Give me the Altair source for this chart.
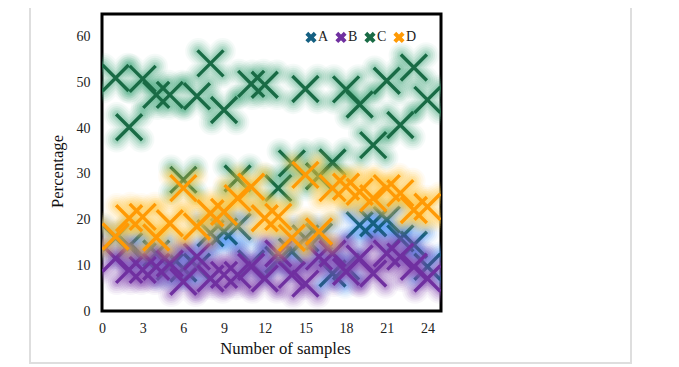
import altair as alt
import pandas as pd

series_names = ["A", "B", "C", "D"]
a_x = [1, 2, 3, 4, 5, 6, 7, 8, 9, 10, 11, 13, 14, 15, 16, 17, 18, 19, 20, 21, 22, 23, 24]
a_y = [16, 14.2, 12, 12.6, 9.7, 9.3, 9.7, 17, 17.4, 18.5, 10.4, 11.2, 13, 15.9, 16.3, 8.2, 9.7, 18.8, 19.2, 20, 15.9, 14.5, 9.7]
b_x = [1, 2, 3, 4, 5, 6, 7, 8, 9, 10, 11, 12, 13, 14, 15, 16, 17, 18, 19, 20, 21, 22, 23, 24]
b_y = [11.5, 9, 9, 9.7, 10.4, 6.4, 11.9, 7.1, 7.9, 7.9, 9.7, 7.1, 12.6, 7.9, 6, 11.9, 12.6, 8.6, 11.5, 8.2, 12.6, 11.9, 9.7, 7.1]
c_x = [1, 2, 3, 4, 5, 6, 7, 8, 9, 10, 11, 12, 13, 14, 15, 16, 17, 18, 19, 20, 21, 22, 23, 24]
c_y = [51, 40.2, 50.8, 47.3, 47.3, 28.7, 47, 54.2, 44, 29, 49.7, 49.5, 26.9, 32.3, 48.6, 29.5, 32.5, 48.5, 45.2, 36.3, 50.4, 40.7, 53.3, 46.2]
d_x = [1, 2, 3, 4, 5, 6, 7, 8, 9, 10, 11, 12, 13, 14, 15, 16, 17, 18, 19, 20, 21, 22, 23, 24]
d_y = [16.3, 20.3, 20.6, 16.1, 19.2, 26.9, 18.5, 21.4, 21.7, 24.7, 27.2, 20.3, 20.6, 16, 29.8, 17.4, 26.9, 27.2, 26.1, 24.7, 26.9, 25.8, 22.1, 22.8]

line_colors = ["#156082", "#7030A0", "#196B45", "#FF9A05"]
glow_colors = ["#4C95F5", "#8A4DB5", "#4FAF85", "#FFC83D"]
x_ticks = list(range(0, 25, 3))
y_ticks = list(range(0, 61, 10))

rows = []
for name, xs, ys in zip(series_names, [a_x, b_x, c_x, d_x], [a_y, b_y, c_y, d_y]):
    rows += [{"x": x, "y": y, "s": name} for x, y in zip(xs, ys)]
df = pd.DataFrame(rows)

X_PATH = "M-1,-1L1,1M-1,1L1,-1"
FONT = "Liberation Serif"
x_enc = alt.X("x:Q", scale=alt.Scale(domain=[0, 25], nice=False),
              axis=alt.Axis(values=x_ticks, title="Number of samples", grid=False, domain=False, ticks=False,
                            labelPadding=10, labelFontSize=14, labelColor="#222", labelFont=FONT, labelFlush=False,
                            titleFont=FONT, titleFontSize=16.7, titleFontWeight="normal", titleColor="#111",
                            titleX=183, titleY=29, labelAngle=0))
y_enc = alt.Y("y:Q", scale=alt.Scale(domain=[0, 65], nice=False),
              axis=alt.Axis(values=y_ticks, title="Percentage", grid=False, domain=False, ticks=False,
                            labelPadding=12, labelFontSize=14, labelColor="#222", labelFont=FONT, labelFlush=False,
                            titleFont=FONT, titleFontSize=16.7, titleFontWeight="normal", titleColor="#111",
                            titleX=-36, titleY=157))

layers = [
    alt.Chart(alt.Data(values=[{}])).mark_rect(fill="transparent", stroke="#DEDEDE", strokeWidth=2, clip=False).encode(
        x=alt.value(-72), x2=alt.value(529), y=alt.value(-20), y2=alt.value(349))
]
glow_widths = [(26, 0.05), (22, 0.07), (18, 0.1), (14, 0.12), (10, 0.15), (7, 0.15)]
for name, glow in zip(series_names, glow_colors):
    base = alt.Chart(df).transform_filter(alt.datum.s == name)
    for w, op in glow_widths:
        layers.append(base.mark_point(shape=X_PATH, size=600, filled=False, stroke=glow, strokeWidth=w,
                                      opacity=op, strokeCap="round", clip=True).encode(x=x_enc, y=y_enc))
    layers.append(base.mark_point(shape=X_PATH, size=676, filled=False, strokeWidth=3.4, opacity=1, clip=True).encode(
        x=x_enc, y=y_enc,
        color=alt.Color("s:N", scale=alt.Scale(domain=series_names, range=line_colors),
                        legend=alt.Legend(title=None, orient="none", legendX=202, legendY=16, direction="horizontal",
                                          columns=4, symbolType=X_PATH, symbolSize=70, symbolStrokeWidth=4,
                                          symbolOpacity=1, labelFont=FONT, labelFontSize=14, labelColor="#222",
                                          labelOffset=0, columnPadding=-1, symbolFillColor="transparent"))))

chart = alt.layer(*layers).properties(
    width=339, height=297,
    padding={"left": 94, "top": 6, "right": 200, "bottom": 54},
    autosize=alt.AutoSizeParams(type="none"),
    background="white",
).configure_view(stroke="black", strokeWidth=3)

chart.save("out.html", embed_options={"renderer": "svg", "actions": False})
